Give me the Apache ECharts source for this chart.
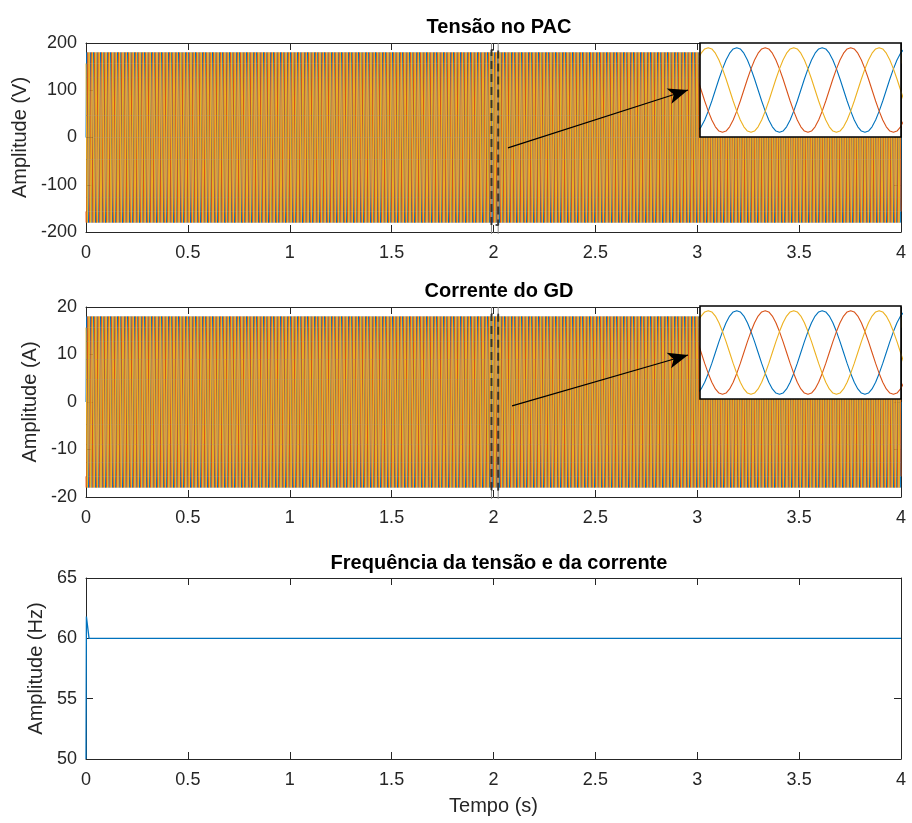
<!DOCTYPE html>
<html><head><meta charset="utf-8">
<script src="https://cdn.jsdelivr.net/npm/echarts@6/dist/echarts.min.js"></script>
<style>html,body{margin:0;padding:0;background:#fff}#c{width:912px;height:823px}</style>
</head><body><div id="c"></div>
<script>
// ---------- data ----------
const titles = ['Tensão no PAC', 'Corrente do GD', 'Frequência da tensão e da corrente'];
const yNames = ['Amplitude (V)', 'Amplitude (A)', 'Amplitude (Hz)'];
const xName = 'Tempo (s)';
const phaseNames = ['Fase a', 'Fase b', 'Fase c'];
const phaseColors = ['#0072BD', '#D95319', '#EDB120'];
// one cycle of the waveform shape (24 samples, every 15°)
const cycleShape = [0, 0.26, 0.5, 0.71, 0.87, 0.97, 1, 0.97, 0.87, 0.71, 0.5, 0.26,
                    0, -0.26, -0.5, -0.71, -0.87, -0.97, -1, -0.97, -0.87, -0.71, -0.5, -0.26];
const phaseShift = [0, -8, 8];      // samples: b lags a by 120°, c leads a by 120°
const voltagePeak = 180;            // V
const currentPeak = 18;             // A
const gridFreq = 60;                // Hz
const simTime = 4;                  // s
const freqTime  = [0, 0.002, 0.015, 4];
const freqValue = [50, 61.8, 60, 60];
const xTicks = [0, 0.5, 1, 1.5, 2, 2.5, 3, 3.5, 4];
const voltTicks = [-200, -100, 0, 100, 200];
const currTicks = [-20, -10, 0, 10, 20];
const freqTicks = [50, 55, 60, 65];
const zoomBox = [1.99, 2.023];      // dashed region (s)
const insetWindow = [1.997, 2.0362];
const voltArrow = [[2.071, -22], [2.955, 100.5]];
const currArrow = [[2.091, -0.8], [2.955, 9.9]];

// ---------- build ----------
function buildPhase(peak, shift) {
  const n = cycleShape.length, total = Math.round(simTime * gridFreq * n), out = [];
  for (let k = 0; k <= total; k++) out.push([k / (gridFreq * n), peak * cycleShape[((k + shift) % n + n) % n]]);
  return out;
}
const voltData = phaseShift.map(s => buildPhase(voltagePeak, s));
const currData = phaseShift.map(s => buildPhase(currentPeak, s));
const freqData = freqTime.map((t, i) => [t, freqValue[i]]);

const AX = '#262626';
const FONT = 'Liberation Sans, Arial, Helvetica, sans-serif';
const L = 86, W = 815;
const mainGrids = [{ top: 43, height: 189 }, { top: 307, height: 190 }, { top: 578, height: 181 }];
const insetGrids = [{ left: 700, top: 43, width: 201, height: 94 }, { left: 700, top: 306, width: 201, height: 93 }];
const yTickSets = [voltTicks, currTicks, freqTicks];
const nameGaps = [56, 46, 39];

const grid = mainGrids.map(g => ({ left: L, top: g.top, width: W, height: g.height, containLabel: false }))
  .concat(insetGrids.map(g => ({ left: g.left, top: g.top, width: g.width, height: g.height })));

const xAxis = [], yAxis = [];
mainGrids.forEach((g, i) => {
  const base = { type: 'value', gridIndex: i, min: xTicks[0], max: xTicks[xTicks.length - 1], interval: xTicks[1] - xTicks[0],
    splitLine: { show: false }, axisLine: { onZero: false, lineStyle: { color: AX, width: 1 } },
    axisTick: { inside: true, length: 7, lineStyle: { color: AX } } };
  xAxis.push(Object.assign({}, base, { position: 'bottom',
    axisLabel: { color: AX, fontSize: 18, fontFamily: FONT, margin: 12 },
    name: i === 2 ? xName : '', nameLocation: 'middle', nameGap: 37,
    nameTextStyle: { color: AX, fontSize: 20, fontFamily: FONT } }));
  xAxis.push(Object.assign({}, base, { position: 'top', axisLabel: { show: false } }));
  const yt = yTickSets[i];
  const ybase = { type: 'value', gridIndex: i, min: yt[0], max: yt[yt.length - 1], interval: yt[1] - yt[0],
    splitLine: { show: false }, axisLine: { onZero: false, lineStyle: { color: AX, width: 1 } },
    axisTick: { inside: true, length: 7, lineStyle: { color: AX } } };
  yAxis.push(Object.assign({}, ybase, { position: 'left',
    axisLabel: { color: AX, fontSize: 18, fontFamily: FONT, margin: 9 },
    name: yNames[i], nameLocation: 'middle', nameGap: nameGaps[i],
    nameTextStyle: { color: AX, fontSize: 20, fontFamily: FONT } }));
  yAxis.push(Object.assign({}, ybase, { position: 'right', axisLabel: { show: false } }));
});
[0, 1].forEach(j => {
  const lim = yTickSets[j][yTickSets[j].length - 1];
  xAxis.push({ type: 'value', gridIndex: 3 + j, min: insetWindow[0], max: insetWindow[1], show: false, splitLine: { show: false } });
  yAxis.push({ type: 'value', gridIndex: 3 + j, min: -lim, max: lim, show: false, splitLine: { show: false } });
});

const series = [];
[voltData, currData].forEach((set, j) => {
  const top = yTickSets[j][yTickSets[j].length - 1];
  const lim = top * 0.925;
  set.forEach((d, p) => {
    series.push({ type: 'line', name: phaseNames[p], xAxisIndex: 2 * j, yAxisIndex: 2 * j, data: d,
      showSymbol: false, symbol: 'none', lineStyle: { color: phaseColors[p], width: 1 }, z: 1,
      silent: true, animation: false });
  });
  // thin gray edges of the zoomed region
  zoomBox.forEach(xb => {
    series.push({ type: 'line', xAxisIndex: 2 * j, yAxisIndex: 2 * j, data: [[xb, -top * 1.02], [xb, top]], clip: false,
      showSymbol: false, symbol: 'none', lineStyle: { color: '#8a8a8a', width: 1 }, z: 5, silent: true, animation: false });
  });
  // dashed zoom box
  series.push({ type: 'line', xAxisIndex: 2 * j, yAxisIndex: 2 * j,
    data: [[zoomBox[0], -lim], [zoomBox[0], lim], [zoomBox[1], lim], [zoomBox[1], -lim], [zoomBox[0], -lim]],
    showSymbol: false, symbol: 'none', lineStyle: { color: 'rgba(30,30,30,0.8)', width: 2, type: [8, 5] },
    z: 6, silent: true, animation: false,
    markLine: { silent: true, symbol: ['none', 'arrow'], symbolSize: [12, 20], label: { show: false },
      lineStyle: { color: '#000', width: 1.2, type: 'solid' },
      data: [[{ coord: (j === 0 ? voltArrow : currArrow)[0] }, { coord: (j === 0 ? voltArrow : currArrow)[1] }]] } });
  // inset
  set.forEach((d, p) => {
    series.push({ type: 'line', xAxisIndex: 6 + j, yAxisIndex: 6 + j, data: d, showSymbol: false, symbol: 'none',
      lineStyle: { color: phaseColors[p], width: 1.1 }, z: 10, silent: true, animation: false });
  });
});
series.push({ type: 'line', name: 'Frequência', xAxisIndex: 4, yAxisIndex: 4, data: freqData, showSymbol: false,
  symbol: 'none', lineStyle: { color: phaseColors[0], width: 1.3 }, z: 2, animation: false });

const graphic = [];
insetGrids.forEach(g => {
  graphic.push({ type: 'rect', z: 8, silent: true, shape: { x: g.left, y: g.top, width: g.width, height: g.height }, style: { fill: '#fff' } });
  graphic.push({ type: 'rect', z: 20, silent: true, shape: { x: g.left, y: g.top, width: g.width, height: g.height }, style: { fill: 'none', stroke: '#000', lineWidth: 1.6 } });
});

const titleTops = [12, 276, 548];
const title = titles.map((t, i) => ({ text: t, left: 494, top: titleTops[i], textAlign: 'center',
  textStyle: { fontSize: 20, fontWeight: 'bold', color: '#000', fontFamily: FONT } }));

const chart = echarts.init(document.getElementById('c'), null, { renderer: 'canvas' });
chart.setOption({ animation: false, backgroundColor: '#fff', title, grid, xAxis, yAxis, series, graphic });
</script></body></html>
